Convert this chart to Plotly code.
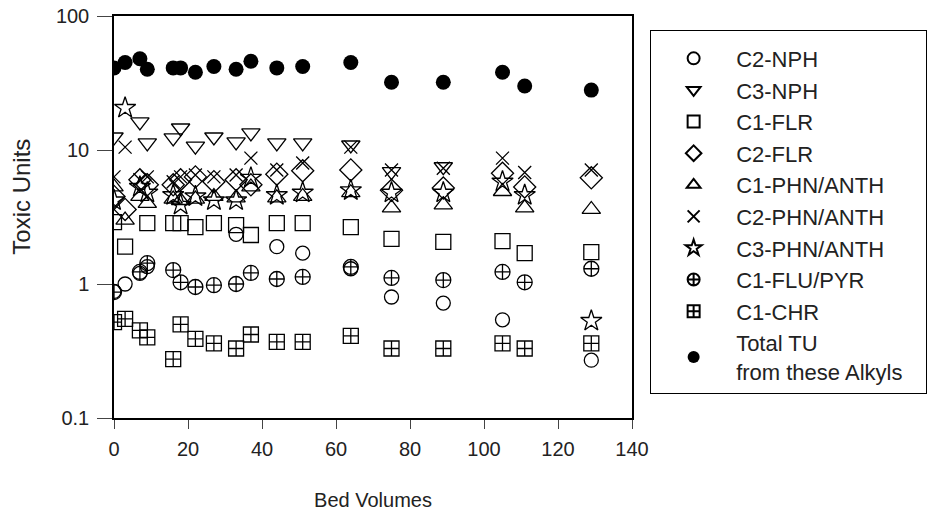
import plotly.graph_objects as go

# ---- data (Bed Volumes vs Toxic Units) ----
bv_all = [0, 3, 7, 9, 16, 18, 22, 27, 33, 37, 44, 51, 64, 75, 89, 105, 111, 129]

c2_nph_x = [0, 3, 7, 9, 33, 44, 51, 64, 75, 89, 105, 129]
c2_nph_y = [0.88, 1.0, 1.2, 1.35, 2.35, 1.9, 1.7, 1.3, 0.80, 0.72, 0.54, 0.27]

c3_nph_x = [0, 7, 9, 16, 18, 22, 27, 33, 37, 44, 51, 64, 75, 89]
c3_nph_y = [12.5, 16.2, 11.3, 12.3, 14.6, 10.7, 12.5, 11.5, 13.4, 11.3, 11.3, 10.9, 6.9, 7.5]

c1_flr_x = [0, 3, 9, 16, 18, 22, 27, 33, 37, 44, 51, 64, 75, 89, 105, 111, 129]
c1_flr_y = [2.9, 1.9, 2.85, 2.85, 2.85, 2.66, 2.85, 2.75, 2.32, 2.85, 2.85, 2.66, 2.17, 2.06, 2.09, 1.70, 1.73]

c2_flr_x = bv_all
c2_flr_y = [4.5, 3.6, 6.0, 5.5, 5.5, 6.0, 6.3, 5.8, 6.0, 5.5, 6.6, 7.0, 7.1, 5.0, 5.2, 6.7, 5.3, 6.2]

c1_phn_x = bv_all
c1_phn_y = [5.3, 3.0, 4.5, 4.0, 4.3, 4.2, 4.3, 4.5, 4.4, 5.3, 4.4, 4.5, 4.8, 3.7, 3.9, 4.9, 3.7, 3.6]

c2_phn_x = bv_all
c2_phn_y = [6.3, 10.5, 6.0, 6.3, 5.8, 6.3, 6.5, 6.3, 6.5, 8.7, 7.1, 8.0, 10.5, 7.1, 7.3, 8.7, 6.8, 7.1]

c3_phn_x = bv_all
c3_phn_y = [4.2, 20.6, 5.3, 4.8, 4.6, 3.9, 4.5, 4.2, 4.2, 6.2, 4.6, 4.8, 5.0, 4.8, 4.8, 5.8, 4.6, 0.53]

c1_flu_x = [0, 7, 9, 16, 18, 22, 27, 33, 37, 44, 51, 64, 75, 89, 105, 111, 129]
c1_flu_y = [0.87, 1.23, 1.43, 1.27, 1.03, 0.95, 0.98, 1.0, 1.21, 1.09, 1.13, 1.34, 1.11, 1.07, 1.23, 1.03, 1.3]

c1_chr_x = bv_all
c1_chr_y = [0.52, 0.55, 0.45, 0.40, 0.275, 0.50, 0.39, 0.36, 0.33, 0.42, 0.37, 0.37, 0.41, 0.33, 0.33, 0.36, 0.33, 0.36]

total_x = bv_all
total_y = [41, 45, 48, 40, 41, 41, 38, 42, 40, 46, 41, 42, 45, 32, 32, 38, 30, 28]

x_ticks = [0, 20, 40, 60, 80, 100, 120, 140]
y_ticks = [0.1, 1, 10, 100]
y_ticklabels = ["0.1", "1", "10", "100"]

series = [
    ("C2-NPH", c2_nph_x, c2_nph_y, "circle-open", 14),
    ("C3-NPH", c3_nph_x, c3_nph_y, "triangle-down-open", 16),
    ("C1-FLR", c1_flr_x, c1_flr_y, "square-open", 15),
    ("C2-FLR", c2_flr_x, c2_flr_y, "diamond-open", 17),
    ("C1-PHN/ANTH", c1_phn_x, c1_phn_y, "triangle-up-open", 16),
    ("C2-PHN/ANTH", c2_phn_x, c2_phn_y, "x-thin-open", 13),
    ("C3-PHN/ANTH", c3_phn_x, c3_phn_y, "star-open", 16),
    ("C1-FLU/PYR", c1_flu_x, c1_flu_y, "circle-cross-open", 15),
    ("C1-CHR", c1_chr_x, c1_chr_y, "square-cross-open", 15),
]

FONT = "Liberation Sans, Arial, sans-serif"
fig = go.Figure()
for name, xs, ys, sym, sz in series:
    fig.add_trace(go.Scatter(
        x=xs, y=ys, mode="markers", name=name,
        marker=dict(symbol=sym, size=sz, color="black", line=dict(color="black", width=1.3)),
    ))
fig.add_trace(go.Scatter(
    x=total_x, y=total_y, mode="markers",
    name="Total TU<br>from these Alkyls" + "\u00a0" * 3,
    marker=dict(symbol="circle", size=15, color="black", line=dict(width=0)),
))

fig.update_layout(
    width=943, height=515,
    margin=dict(l=114, r=311, t=16, b=97, autoexpand=False),
    paper_bgcolor="white", plot_bgcolor="white",
    font=dict(family=FONT, color="#222", size=20),
    legend=dict(
        x=1.035, y=0.965, xanchor="left", yanchor="top",
        bordercolor="black", borderwidth=1, bgcolor="white",
        font=dict(family=FONT, size=22, color="#222"),
        itemsizing="constant", itemwidth=75,
        title=dict(text="\u00a0", font=dict(size=5)),
    ),
    showlegend=True,
    annotations=[dict(
        text="Toxic Units", textangle=-90, showarrow=False,
        xref="paper", yref="paper", x=-0.178, y=0.55,
        xanchor="center", yanchor="middle",
        font=dict(family=FONT, size=24, color="#222"),
    )],
)
fig.update_xaxes(
    range=[0, 140], tickvals=x_ticks, ticks="outside", ticklen=9, tickwidth=1.3,
    showline=True, linecolor="black", linewidth=1.5, mirror=True,
    showgrid=False, zeroline=False, ticklabelstandoff=3,
    title=dict(text="Bed Volumes", font=dict(size=20), standoff=34),
    tickfont=dict(size=20),
)
fig.update_yaxes(
    type="log", range=[-1, 2], tickvals=y_ticks, ticktext=y_ticklabels,
    ticks="outside", ticklen=15, tickwidth=1.3,
    showline=True, linecolor="black", linewidth=1.5, mirror=True,
    showgrid=False, zeroline=False, ticklabelstandoff=4,
    tickfont=dict(size=20),
)
fig.write_html("out.html")
